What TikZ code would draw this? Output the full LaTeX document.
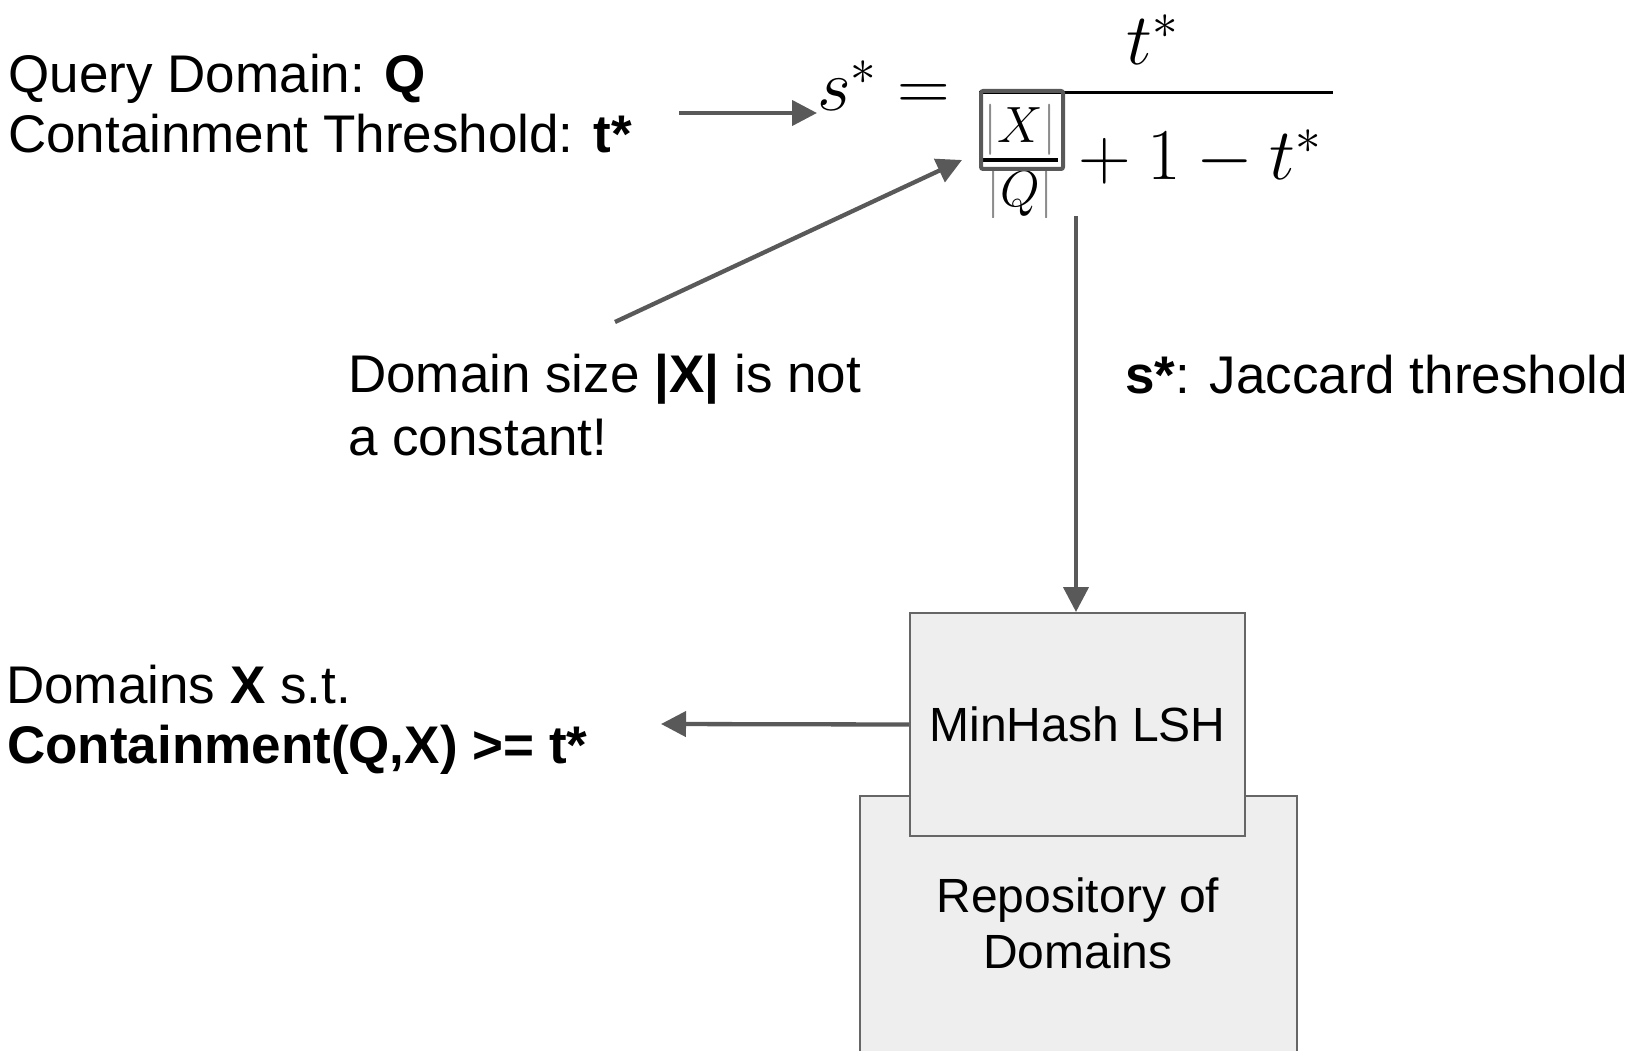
\RequirePackage{fix-cm}
\documentclass[tikz,border=0pt]{standalone}
\usepackage[no-math]{fontspec}
\setmainfont{Liberation Sans}
\usetikzlibrary{arrows.meta}

\definecolor{arrowgray}{HTML}{595959}
\definecolor{boxfill}{HTML}{EEEEEE}
\definecolor{boxline}{HTML}{666666}
\definecolor{bargray}{HTML}{8C8C8C}

\tikzset{
  lbl/.style={inner sep=0pt, anchor=base west, font=\fontsize{53}{60}\selectfont},
  boxlbl/.style={inner sep=0pt, anchor=base, font=\fontsize{48}{56}\selectfont},
  mathbig/.style={inner sep=0pt, anchor=base west, font=\fontsize{73}{80}\selectfont},
  mathsmall/.style={inner sep=0pt, anchor=base, font=\fontsize{51}{56}\selectfont},
  flow/.style={draw=arrowgray, line width=4.3pt, -{Triangle[length=25pt,width=25pt]}},
  block/.style={draw=boxline, fill=boxfill, line width=2pt, inner sep=0pt},
}

\begin{document}
\begin{tikzpicture}[x=1pt,y=-1pt]
\useasboundingbox (0,0) rectangle (1643,1051);
\clip (0,0) rectangle (1643,1051);

% query inputs
\node[lbl] (query) at (8.5,93) {Query Domain: \textbf{Q}};
\node[lbl] (thresh) at (8,153) {Containment Threshold: \textbf{t*}};

% threshold conversion formula
\node[mathbig] (seq) at (817,111) {$s^*=$};
\draw[line width=3pt] (979,93) -- (1333,93);
\node[mathbig] (num) at (1126,65) {$t^*$};
\node[mathbig] (den) at (1062,180) {${}+1-t^*$};
\node[mathsmall] (absx) at (1020,143) {$\textcolor{bargray}{|}X\textcolor{bargray}{|}$};
\draw[line width=3.5pt] (983,160) -- (1058,160);
\begin{scope}
  \clip (900,150) rectangle (1100,217);
  \node[mathsmall] (absq) at (1020,207) {$\textcolor{bargray}{|}Q\textcolor{bargray}{|}$};
\end{scope}
\node[draw=arrowgray, line width=4pt, rounded corners=2pt, inner sep=0pt,
      minimum width=82pt, minimum height=78pt] (xbox) at (1022,130) {};

% annotations
\node[lbl] (jac) at (1125,393) {\textbf{s*}: Jaccard threshold};
\node[lbl] (note1) at (348,392) {Domain size \textbf{|X|} is not};
\node[lbl] (note2) at (348,455) {a constant!};

% index and repository
\node[block, minimum width=437pt, minimum height=290pt, anchor=north] (repo) at (1078,795) {};
\node[boxlbl] (repo1) at (1078,912) {Repository of};
\node[boxlbl] (repo2) at (1078,968) {Domains};
\node[block, minimum width=335pt, minimum height=223pt,
      font=\fontsize{48}{56}\selectfont] (lsh) at (1077.5,724.5) {MinHash LSH};

% query result
\node[lbl] (res1) at (6,703) {Domains \textbf{X} s.t.};
\node[lbl] (res2) at (7,763) {\textbf{Containment(Q,X) >= t*}};

% connectors
\coordinate (qin) at (679,113);
\draw[flow] (qin) -- (qin -| seq.west);
\coordinate (notetail) at (615,322);
\coordinate (boxtip) at (962,160);
\draw[flow] (notetail) -- (boxtip);
\coordinate (jtop) at (1076,216);
\draw[flow] (jtop) -- (jtop |- lsh.north);
\coordinate (resin) at (661,724);
\draw[flow] (lsh.west) -- (resin);
\end{tikzpicture}
\end{document}
